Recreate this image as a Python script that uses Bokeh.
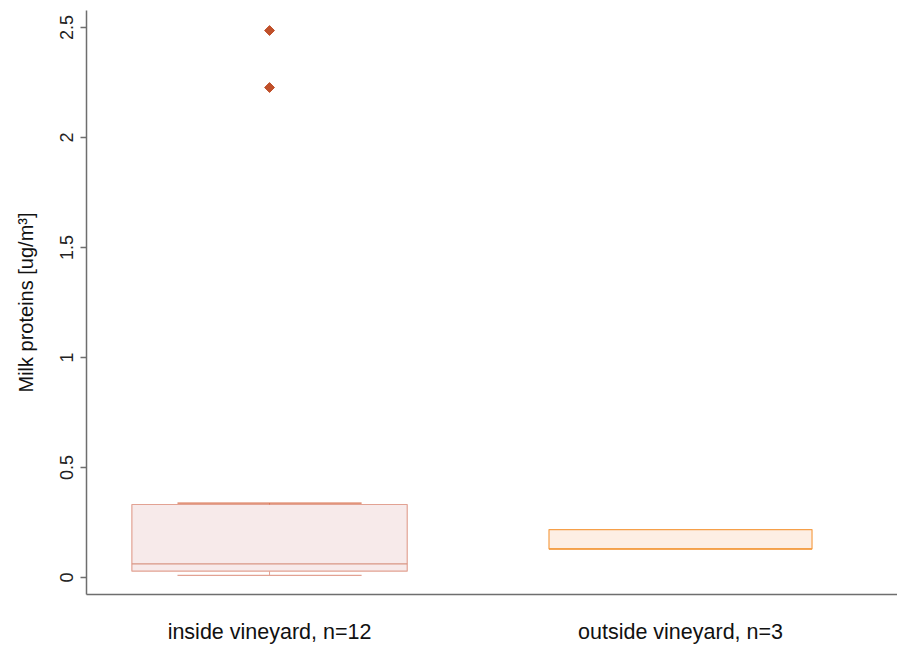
import math
from bokeh.plotting import figure
from bokeh.models import Range1d, FixedTicker
from bokeh.embed import file_html
from bokeh.resources import INLINE

# Summary statistics per group (ug/m3)
groups = ["inside vineyard, n=12", "outside vineyard, n=3"]
positions = [1, 2]
lower_whisker = [0.010, 0.130]
q1 = [0.029, 0.130]
median = [0.062, 0.130]
q3 = [0.332, 0.218]
upper_whisker = [0.338, 0.218]

# Outside values (inside vineyard group)
outlier_x = [1, 1]
outlier_y = [2.486, 2.227]

y_ticks = [0, 0.5, 1, 1.5, 2, 2.5]
y_tick_labels = ["0", "0.5", "1", "1.5", "2", "2.5"]

box_fill = ["#f7eaea", "#fdeee4"]
box_line = ["#e2a293", "#f6a04a"]
median_line = ["#d99684", "#f39a3e"]
cap_line = ["#d8704e", "#f6a04a"]
box_widths = [0.67, 0.64]
cap_width = 0.448

p = figure(width=897, height=646, output_backend="svg", toolbar_location=None,
           x_range=Range1d(0.5546, 2.528), y_range=Range1d(-0.077, 2.577),
           min_border_left=86, min_border_right=0, min_border_top=10,
           min_border_bottom=52)
p.outline_line_color = None
p.xgrid.grid_line_color = None
p.ygrid.grid_line_color = None
p.background_fill_color = "white"
p.border_fill_color = "white"

font = "Liberation Sans"

# Boxes
for i in range(len(groups)):
    x = positions[i]
    w = box_widths[i]
    p.vbar(x=[x], width=w, bottom=[q1[i]], top=[q3[i]],
           fill_color=box_fill[i], line_color=box_line[i], line_width=1.2)
    # whisker stems and caps
    if upper_whisker[i] > q3[i]:
        p.segment(x0=[x], y0=[q3[i]], x1=[x], y1=[upper_whisker[i]],
                  line_color=cap_line[i], line_width=1)
        p.segment(x0=[x - cap_width / 2], y0=[upper_whisker[i]],
                  x1=[x + cap_width / 2], y1=[upper_whisker[i]],
                  line_color=cap_line[i], line_width=1.3)
    if lower_whisker[i] < q1[i]:
        p.segment(x0=[x], y0=[lower_whisker[i]], x1=[x], y1=[q1[i]],
                  line_color=box_line[i], line_width=1)
        p.segment(x0=[x - cap_width / 2], y0=[lower_whisker[i]],
                  x1=[x + cap_width / 2], y1=[lower_whisker[i]],
                  line_color=box_line[i], line_width=1.3)
    p.segment(x0=[x - w / 2], y0=[median[i]], x1=[x + w / 2], y1=[median[i]],
              line_color=median_line[i], line_width=1.4)

p.scatter(outlier_x, outlier_y, marker="square", size=7, angle=math.pi / 4,
          fill_color="#c0502a", line_color="#c0502a")

# Y axis
ya = p.yaxis[0]
ya.ticker = FixedTicker(ticks=y_ticks)
ya.major_label_overrides = {t: l for t, l in zip(y_ticks, y_tick_labels)}
ya.major_label_orientation = "vertical"
ya.minor_tick_line_color = None
ya.major_tick_out = 6
ya.major_tick_in = 0
ya.major_label_standoff = 7
ya.axis_line_color = "#6e6e6e"
ya.axis_line_width = 1.5
ya.major_tick_line_color = "#6e6e6e"
ya.major_tick_line_width = 1.3
ya.major_label_text_font = font
ya.major_label_text_font_size = "18px"
ya.major_label_text_color = "#222222"
ya.axis_label = "Milk proteins [ug/m³]"
ya.axis_label_text_font = font
ya.axis_label_text_font_size = "20px"
ya.axis_label_text_font_style = "normal"
ya.axis_label_text_color = "#111111"
ya.axis_label_standoff = 21

# X axis
xa = p.xaxis[0]
xa.ticker = FixedTicker(ticks=positions)
xa.major_label_overrides = {pos: g for pos, g in zip(positions, groups)}
xa.minor_tick_line_color = None
xa.major_tick_line_color = None
xa.major_tick_out = 0
xa.major_tick_in = 0
xa.major_label_standoff = 25
xa.axis_line_color = "#6e6e6e"
xa.axis_line_width = 1.5
xa.major_label_text_font = font
xa.major_label_text_font_size = "21.5px"
xa.major_label_text_color = "#111111"

open("out.html", "w").write(file_html(p, INLINE))
